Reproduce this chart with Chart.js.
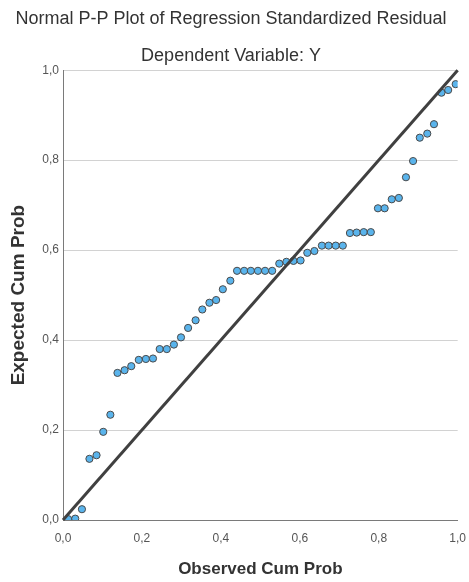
<!DOCTYPE html>
<html>
<head>
<meta charset="utf-8">
<script src="https://cdn.jsdelivr.net/npm/chart.js@4.4.0/dist/chart.umd.min.js"></script>
<style>
  html, body { margin:0; padding:0; background:#fff; }
  #wrap { width:469px; height:582px; }
</style>
</head>
<body>
<div id="wrap"><canvas id="pp"></canvas></div>
<script>
// Normal P-P plot · observed vs expected cumulative probability

const observedCum = [
  0.013, 0.031, 0.048, 0.067, 0.085, 0.102, 0.120, 0.138, 0.156, 0.173,
  0.192, 0.210, 0.228, 0.245, 0.263, 0.281, 0.299, 0.317, 0.336, 0.353,
  0.371, 0.388, 0.405, 0.424, 0.441, 0.459, 0.476, 0.494, 0.512, 0.530,
  0.548, 0.566, 0.584, 0.602, 0.619, 0.637, 0.656, 0.673, 0.691, 0.709,
  0.727, 0.744, 0.762, 0.780, 0.798, 0.815, 0.833, 0.851, 0.869, 0.887,
  0.904, 0.923, 0.940, 0.959, 0.976, 0.995
];
const expectedCum = [
  0.002, 0.003, 0.024, 0.136, 0.144, 0.196, 0.234, 0.327, 0.333, 0.342,
  0.356, 0.358, 0.359, 0.380, 0.380, 0.390, 0.406, 0.427, 0.444, 0.468,
  0.483, 0.489, 0.513, 0.532, 0.554, 0.554, 0.554, 0.554, 0.554, 0.554,
  0.570, 0.574, 0.576, 0.577, 0.594, 0.598, 0.610, 0.610, 0.610, 0.610,
  0.638, 0.639, 0.640, 0.640, 0.693, 0.693, 0.713, 0.716, 0.762, 0.798,
  0.850, 0.859, 0.880, 0.950, 0.956, 0.969
];
const refLine = [0, 1];
const axisTicks = [0, 0.2, 0.4, 0.6, 0.8, 1.0];

const fmt = v => v.toFixed(1).replace('.', ',');

const puntos = observedCum.map((x,i) => ({ x, y: expectedCum[i] }));
const linea  = refLine.map(v => ({ x:v, y:v }));

new Chart(document.getElementById('pp'), {
  type:'scatter',
  data:{
    datasets:[
      { type:'line', data:linea, borderColor:'#404040', borderWidth:3, pointRadius:0, fill:false, order:0, clip:false },
      { data:puntos, backgroundColor:'#5ab4ec', borderColor:'#4a4a4a', borderWidth:1, pointRadius:3.6, order:1 }
    ]
  },
  options:{
    responsive:true, maintainAspectRatio:false, animation:false,
    layout:{ padding:{ left:0, right:7, top:0, bottom:0 } },
    plugins:{
      legend:{ display:false }, tooltip:{ enabled:false },
      title:{ display:true, text:'Normal P-P Plot of Regression Standardized Residual',
        color:'#333', font:{ family:'Liberation Sans, Arial', size:18, weight:'normal' },
        padding:{ top:8, bottom:16 } },
      subtitle:{ display:true, text:'Dependent Variable: Y',
        color:'#333', font:{ family:'Liberation Sans, Arial', size:18 },
        padding:{ top:0, bottom:3 } }
    },
    scales:{
      x:{
        type:'linear', min:0, max:1,
        afterBuildTicks: s => { s.ticks = axisTicks.map(v => ({ value:v })); },
        afterFit: s => { s.height = 62; },
        grid:{ display:false },
        border:{ color:'#7a7a7a', width:1 },
        ticks:{ callback:fmt, color:'#555', padding:3, maxRotation:0,
          font:{ family:'Liberation Sans, Arial', size:12 } },
        title:{ display:true, text:'Observed Cum Prob', color:'#333',
          font:{ family:'Liberation Sans, Arial', size:17, weight:'bold' },
          padding:{ top:0, bottom:2 } }
      },
      y:{
        type:'linear', min:0, max:1,
        afterBuildTicks: s => { s.ticks = axisTicks.map(v => ({ value:v })); },
        afterFit: s => { s.width = 63; },
        grid:{ color:'#d2d2d2', lineWidth:1, drawTicks:false },
        border:{ color:'#7a7a7a', width:1 },
        ticks:{ callback:fmt, color:'#555', padding:4,
          font:{ family:'Liberation Sans, Arial', size:12 } },
        title:{ display:true, text:'Expected Cum Prob', color:'#333',
          font:{ family:'Liberation Sans, Arial', size:19, weight:'bold' },
          padding:{ top:7, bottom:0 } }
      }
    }
  }
});
</script>
</body>
</html>
